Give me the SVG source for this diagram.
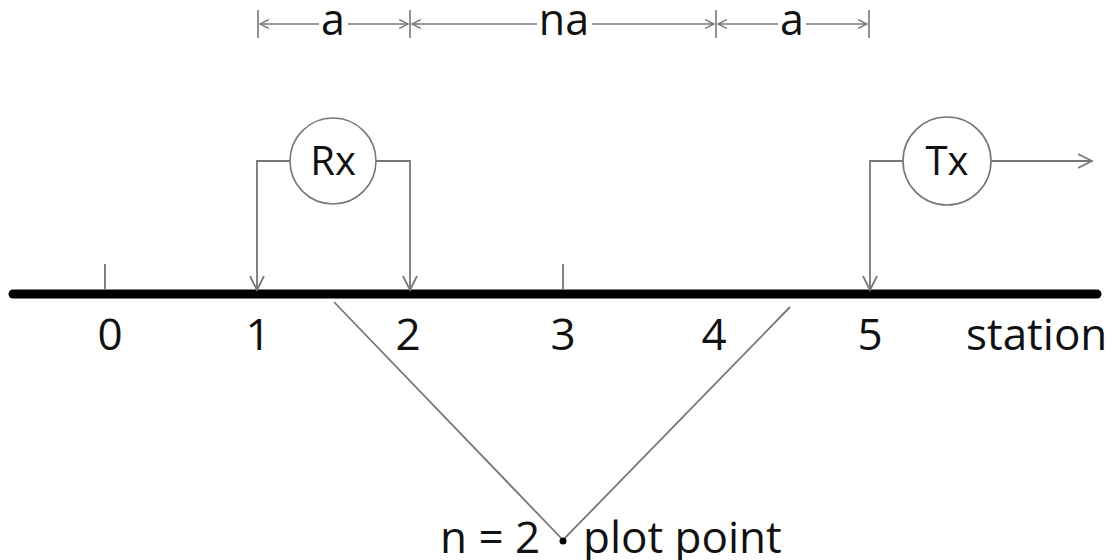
<svg xmlns="http://www.w3.org/2000/svg" width="1118" height="560" viewBox="0 0 1118 560">
<defs>
<style>
.t{font-family:"Open Sans","Liberation Sans",sans-serif;fill:#111}
.c{stroke:#777;stroke-width:1.8;fill:none}
.d{stroke:#777;stroke-width:1.6;fill:none}
</style>
<marker id="ah" markerUnits="userSpaceOnUse" markerWidth="16" markerHeight="16" refX="14" refY="7" orient="auto" viewBox="0 0 16 14">
<path d="M0,0 L14,7 L0,14" fill="none" stroke="#777" stroke-width="1.8"/>
</marker>
<marker id="sh" markerUnits="userSpaceOnUse" markerWidth="10" markerHeight="10" refX="9" refY="4.5" orient="auto-start-reverse" viewBox="0 0 10 9">
<path d="M0,0 L9,4.5 L0,9" fill="none" stroke="#777" stroke-width="1.4"/>
</marker>
</defs>
<rect width="1118" height="560" fill="#fff"/>
<g id="dimensions">
<path class="d" d="M258,10 V38 M410,10 V38 M716,10 V38 M869,10 V38"/>
<line class="d" x1="260" y1="24" x2="319" y2="24" marker-start="url(#sh)"/>
<line class="d" x1="348" y1="24" x2="408" y2="24" marker-end="url(#sh)"/>
<line class="d" x1="412" y1="24" x2="537" y2="24" marker-start="url(#sh)"/>
<line class="d" x1="592" y1="24" x2="714" y2="24" marker-end="url(#sh)"/>
<line class="d" x1="718" y1="24" x2="778" y2="24" marker-start="url(#sh)"/>
<line class="d" x1="806" y1="24" x2="867" y2="24" marker-end="url(#sh)"/>
<text class="t" x="333" y="35" font-size="43" text-anchor="middle">a</text>
<text class="t" x="564" y="35" font-size="43" text-anchor="middle">na</text>
<text class="t" x="792" y="35" font-size="43" text-anchor="middle">a</text>
</g>
<g id="line">
<line x1="13" y1="294" x2="1097" y2="294" stroke="#000" stroke-width="9" stroke-linecap="round"/>
<path class="c" d="M105,264 V290 M563,264 V290"/>
</g>
<g id="labels">
<text class="t" x="110" y="350" font-size="44" text-anchor="middle">0</text>
<text class="t" x="258" y="350" font-size="44" text-anchor="middle">1</text>
<text class="t" x="408" y="350" font-size="44" text-anchor="middle">2</text>
<text class="t" x="563" y="350" font-size="44" text-anchor="middle">3</text>
<text class="t" x="714" y="350" font-size="44" text-anchor="middle">4</text>
<text class="t" x="870" y="350" font-size="44" text-anchor="middle">5</text>
<text class="t" x="966" y="350" font-size="44">station</text>
</g>
<g id="rx">
<circle cx="333" cy="161" r="43" fill="#fff" stroke="#777" stroke-width="1.6"/>
<text class="t" x="333" y="175" font-size="40" text-anchor="middle">Rx</text>
</g>
<g id="tx">
<circle cx="947" cy="161" r="44" fill="#fff" stroke="#777" stroke-width="1.6"/>
<text class="t" x="947" y="175" font-size="40" text-anchor="middle">Tx</text>
</g>
<g id="connectors">
<polyline class="c" points="290,161 257,161 257,290" marker-end="url(#ah)"/>
<polyline class="c" points="376,161 410,161 410,290" marker-end="url(#ah)"/>
<polyline class="c" points="903,161 870,161 870,290" marker-end="url(#ah)"/>
<line class="c" x1="991" y1="161" x2="1092" y2="161" marker-end="url(#ah)"/>
<polyline class="c" points="334,302 563,540 790,307"/>
</g>
<g id="plot">
<circle cx="563" cy="541" r="3.5" fill="#000"/>
<text class="t" x="440" y="553" font-size="44">n = 2</text>
<text class="t" x="583" y="553" font-size="44">plot point</text>
</g>
</svg>
